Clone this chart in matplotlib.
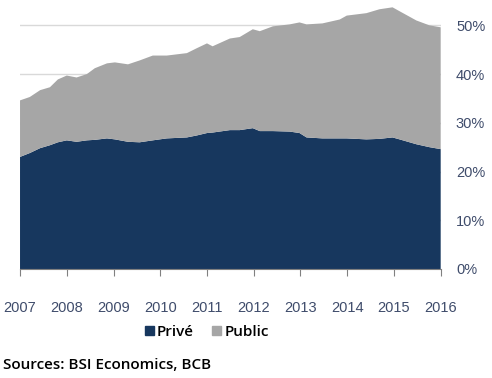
import numpy as np
import matplotlib.pyplot as plt
from matplotlib.patches import Patch

# dates en années décimales, valeurs en %
dates = [2007.00, 2007.21, 2007.43, 2007.64, 2007.81, 2008.00, 2008.21, 2008.43,
         2008.60, 2008.86, 2009.03, 2009.31, 2009.56, 2009.84, 2010.14, 2010.57,
         2010.78, 2011.00, 2011.12, 2011.49, 2011.70, 2011.98, 2012.13, 2012.41,
         2012.77, 2012.98, 2013.13, 2013.47, 2013.84, 2013.99, 2014.41, 2014.69,
         2014.97, 2015.12, 2015.48, 2015.76, 2016.00]
prive = [23.0, 23.8, 24.8, 25.4, 26.0, 26.4, 26.1, 26.4,
         26.5, 26.8, 26.6, 26.1, 26.0, 26.4, 26.8, 27.0,
         27.4, 27.9, 28.0, 28.5, 28.5, 28.9, 28.3, 28.3,
         28.2, 27.9, 27.0, 26.8, 26.8, 26.8, 26.6, 26.7,
         27.0, 26.6, 25.6, 25.0, 24.6]
public = [11.6, 11.5, 11.9, 11.9, 12.9, 13.3, 13.2, 13.6,
          14.7, 15.4, 15.8, 15.9, 16.8, 17.4, 17.0, 17.3,
          17.9, 18.4, 17.7, 18.8, 19.1, 20.3, 20.5, 21.5,
          22.0, 22.7, 23.2, 23.6, 24.4, 25.2, 25.9, 26.6,
          26.7, 26.3, 25.4, 25.0, 25.0]
years = list(range(2007, 2017))
pct_ticks = [0, 10, 20, 30, 40, 50]

navy = "#17375e"
grey = "#a6a6a6"
label_col = "#3f4c6b"

fig = plt.figure(figsize=(4.92, 3.78), dpi=100)
ax = fig.add_axes([0.0407, 0.2884, 0.855, 0.709])

ax.stackplot(dates, prive, public, colors=[navy, grey], linewidth=0, zorder=2)

ax.set_xlim(2007, 2016)
ax.set_ylim(0, 55)
ax.set_xticks(years)
ax.set_xticklabels([str(y) for y in years])
ax.set_yticks(pct_ticks)
ax.set_yticklabels([f"{p}%" for p in pct_ticks])
ax.yaxis.tick_right()
ax.grid(True, axis="y", color="#d9d9d9", linewidth=1, zorder=0)
ax.set_axisbelow(True)

for s in ["top", "left", "right"]:
    ax.spines[s].set_visible(False)
ax.spines["bottom"].set_color("#808080")
ax.spines["bottom"].set_zorder(3)

ax.tick_params(axis="x", direction="out", length=5, color="#808080", pad=18,
               labelsize=10.5, labelcolor=label_col)
ax.tick_params(axis="y", length=0, pad=11, labelsize=10.5, labelcolor=label_col)
for lab in ax.get_xticklabels() + ax.get_yticklabels():
    lab.set_family("Liberation Sans")

handles = [Patch(color=navy, label="Privé"), Patch(color=grey, label="Public")]
fig.legend(handles=handles, loc="center", bbox_to_anchor=(0.42, 0.122), ncol=2,
           frameon=False, handlelength=0.6, handleheight=0.6, handletextpad=0.2,
           columnspacing=1.2, prop={"family": "Open Sans", "weight": "semibold", "size": 11})

fig.text(0.006, 0.035, "Sources: BSI Economics, BCB", family="Open Sans",
         weight="semibold", size=11, ha="left", va="center")

fig.savefig("out.png", dpi=100)
